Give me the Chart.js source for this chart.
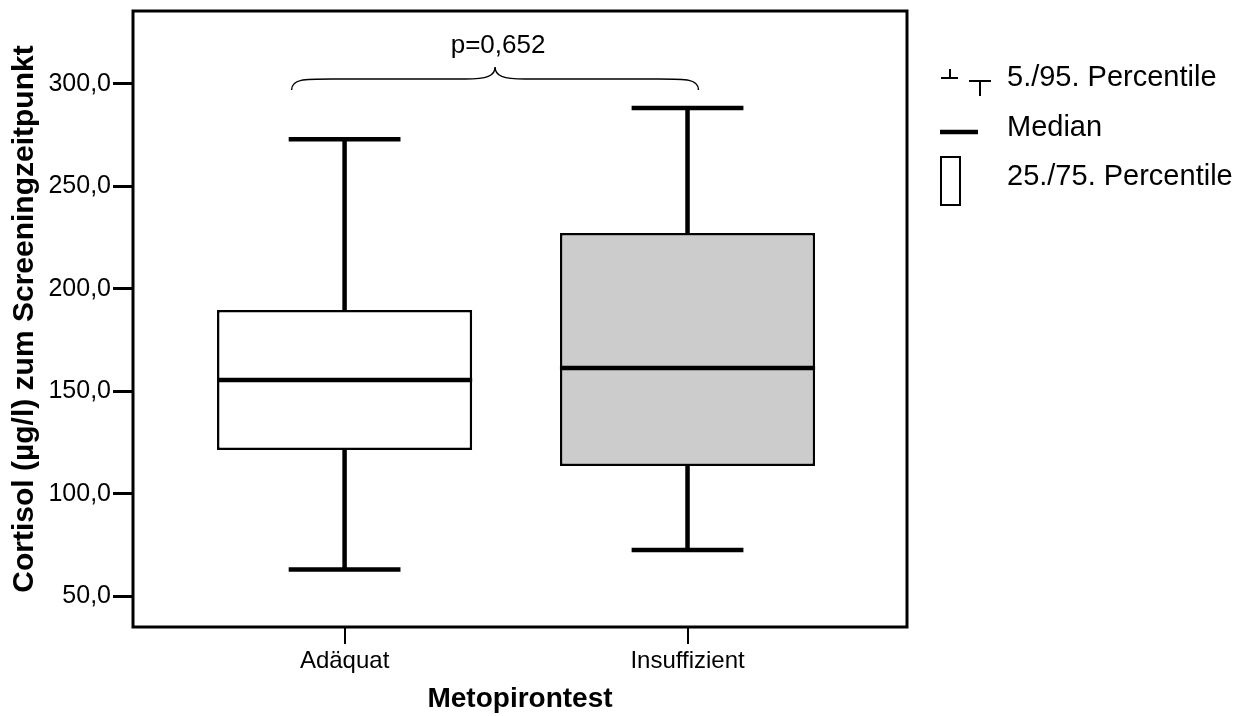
<!DOCTYPE html>
<html>
<head>
<meta charset="utf-8">
<script src="https://cdn.jsdelivr.net/npm/chart.js@4"></script>
<style>
  html, body { margin: 0; padding: 0; background: #fff; }
  #wrap { width: 1249px; height: 716px; }
</style>
</head>
<body>
<div id="wrap"><canvas id="boxChart" width="1249" height="716"></canvas></div>
<script>
const categories = ["Adäquat", "Insuffizient"];
const p5  = [63, 72.5];
const q1  = [121.3, 113.5];
const median = [155.5, 161.3];
const q3  = [189.6, 227.2];
const p95 = [273, 288.3];
const boxColors = ["#ffffff", "#cccccc"];
const yTicks = [50, 100, 150, 200, 250, 300];
const pValue = "p=0,652";
const legendLabels = ["5./95. Percentile", "Median", "25./75. Percentile"];

const FONT = "'Liberation Sans', Arial, sans-serif";

const fmt = v => v.toFixed(1).replace(".", ",");

// whiskers, caps, median lines, frame, brace and legend
const boxPlugin = {
  id: "boxExtras",
  afterDatasetsDraw(chart) {
    const ctx = chart.ctx;
    const xs = chart.scales.x, ys = chart.scales.y;
    const capHalf = 0.163, boxHalf = 0.372;
    ctx.save();
    ctx.strokeStyle = "#000";
    ctx.lineCap = "butt";
    categories.forEach((c, i) => {
      const cx = xs.getPixelForValue(i);
      ctx.lineWidth = 4.5;
      ctx.beginPath();
      ctx.moveTo(cx, ys.getPixelForValue(q3[i]));
      ctx.lineTo(cx, ys.getPixelForValue(p95[i]));
      ctx.moveTo(cx, ys.getPixelForValue(q1[i]));
      ctx.lineTo(cx, ys.getPixelForValue(p5[i]));
      ctx.stroke();
      ctx.beginPath();
      ctx.moveTo(xs.getPixelForValue(i - capHalf), ys.getPixelForValue(p95[i]));
      ctx.lineTo(xs.getPixelForValue(i + capHalf), ys.getPixelForValue(p95[i]));
      ctx.moveTo(xs.getPixelForValue(i - capHalf), ys.getPixelForValue(p5[i]));
      ctx.lineTo(xs.getPixelForValue(i + capHalf), ys.getPixelForValue(p5[i]));
      ctx.stroke();
      ctx.beginPath();
      ctx.moveTo(xs.getPixelForValue(i - boxHalf), ys.getPixelForValue(median[i]));
      ctx.lineTo(xs.getPixelForValue(i + boxHalf), ys.getPixelForValue(median[i]));
      ctx.stroke();
    });

    // plot frame
    const a = chart.chartArea;
    ctx.lineWidth = 3;
    ctx.strokeRect(a.left, a.top, a.right - a.left, a.bottom - a.top);

    // brace with p value
    const bl = xs.getPixelForValue(0) - 53, br = xs.getPixelForValue(1) + 11;
    const bm = (bl + br) / 2;
    const yEnd = 90, yMid = 79, yTip = 67;
    ctx.lineWidth = 1.5;
    ctx.beginPath();
    ctx.moveTo(bl, yEnd);
    ctx.bezierCurveTo(bl, yMid, bl + 12, yMid, bl + 40, yMid);
    ctx.lineTo(bm - 30, yMid);
    ctx.bezierCurveTo(bm - 8, yMid, bm, yMid - 3, bm, yTip);
    ctx.bezierCurveTo(bm, yMid - 3, bm + 8, yMid, bm + 30, yMid);
    ctx.lineTo(br - 40, yMid);
    ctx.bezierCurveTo(br - 12, yMid, br, yMid, br, yEnd);
    ctx.stroke();
    ctx.fillStyle = "#000";
    ctx.font = "26px " + FONT;
    ctx.textAlign = "center";
    ctx.textBaseline = "middle";
    ctx.fillText(pValue, bm + 3, 46);

    // legend
    ctx.textAlign = "left";
    ctx.font = "29px " + FONT;
    ctx.lineWidth = 2;
    ctx.beginPath();
    ctx.moveTo(941, 78); ctx.lineTo(958, 78);
    ctx.moveTo(950, 78); ctx.lineTo(950, 69);
    ctx.moveTo(969, 81); ctx.lineTo(991, 81);
    ctx.moveTo(980, 81); ctx.lineTo(980, 96);
    ctx.stroke();
    ctx.fillText(legendLabels[0], 1007, 78);
    ctx.lineWidth = 4.5;
    ctx.beginPath();
    ctx.moveTo(940, 132); ctx.lineTo(978, 132);
    ctx.stroke();
    ctx.fillText(legendLabels[1], 1007, 128);
    ctx.lineWidth = 2;
    ctx.strokeRect(941, 157, 19, 48);
    ctx.fillText(legendLabels[2], 1007, 177);
    ctx.restore();
  }
};

new Chart(document.getElementById("boxChart"), {
  type: "bar",
  data: {
    datasets: [{
      data: categories.map((c, i) => ({ x: i, y: [q1[i], q3[i]] })),
      backgroundColor: boxColors,
      borderColor: "#000",
      borderWidth: 2.5,
      borderSkipped: false,
      barPercentage: 0.744,
      categoryPercentage: 1
    }]
  },
  options: {
    responsive: false,
    animation: false,
    layout: { padding: { left: 0, top: 11, right: 342, bottom: 0 } },
    plugins: { legend: { display: false }, tooltip: { enabled: false } },
    scales: {
      x: {
        type: "linear",
        offset: false,
        min: -0.617,
        max: 1.64,
        afterBuildTicks: s => { s.ticks = categories.map((c, i) => ({ value: i })); },
        afterFit: s => { s.height = 89; s.paddingLeft = 0; s.paddingRight = 0; },
        grid: { offset: false, drawOnChartArea: false, color: "#000", lineWidth: 2, tickLength: 17, tickWidth: 2 },
        border: { display: false },
        ticks: {
          color: "#000",
          font: { family: FONT, size: 24 },
          padding: 3,
          maxRotation: 0,
          callback: v => categories[v] ?? ""
        },
        title: {
          display: true,
          text: "Metopirontest",
          color: "#000",
          font: { family: FONT, size: 28, weight: "bold" },
          padding: { top: 0, bottom: 0 }
        }
      },
      y: {
        min: 34.9,
        max: 335.6,
        afterBuildTicks: s => { s.ticks = yTicks.map(v => ({ value: v })); },
        afterFit: s => { s.width = 133; s.paddingTop = 0; s.paddingBottom = 0; },
        grid: { drawOnChartArea: false, color: "#000", lineWidth: 3, tickLength: 20, tickWidth: 3 },
        border: { display: false },
        ticks: {
          color: "#000",
          font: { family: FONT, size: 25 },
          padding: 2,
          callback: v => fmt(v)
        },
        title: {
          display: true,
          text: "Cortisol (µg/l) zum Screeningzeitpunkt",
          color: "#000",
          font: { family: FONT, size: 30, weight: "bold" },
          padding: { top: 7, bottom: 0 }
        }
      }
    }
  },
  plugins: [boxPlugin]
});
</script>
</body>
</html>
